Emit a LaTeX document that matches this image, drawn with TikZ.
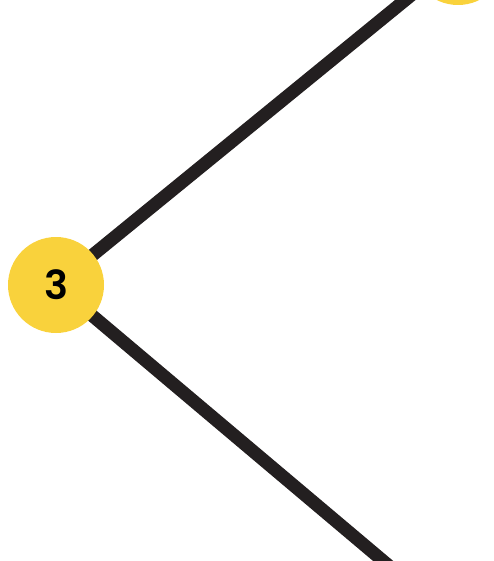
\documentclass[tikz,border=0pt]{standalone}
\usepackage{fontspec}
\setmainfont{Poppins SemiBold}
\usetikzlibrary{backgrounds, math}
\definecolor{myyellow}{RGB}{249, 210, 60}
\definecolor{mydark}{RGB}{35, 31, 32}

\tikzset{
  leaf/.style={circle, fill=myyellow, minimum size=96pt, inner sep=0pt,
    font=\fontsize{40}{42}\selectfont},
  edge/.style={line width=13pt, color=mydark}
}

\begin{document}
\begin{tikzpicture}[x=1pt,y=-1pt]
\useasboundingbox (0,0) rectangle (493,561);
\clip (0,0) rectangle (493,561);

\node[leaf] (n3) at (56,285) {3};
\node[leaf] (ntop) at (458,-43) {};
\coordinate (nbot) at (465,630);

%%%%%%%%%% edges
\begin{pgfonlayer}{background}
\draw[edge] (n3.center) -- (ntop.center);
\draw[edge] (n3.center) -- (nbot);
\end{pgfonlayer}
\end{tikzpicture}
\end{document}
